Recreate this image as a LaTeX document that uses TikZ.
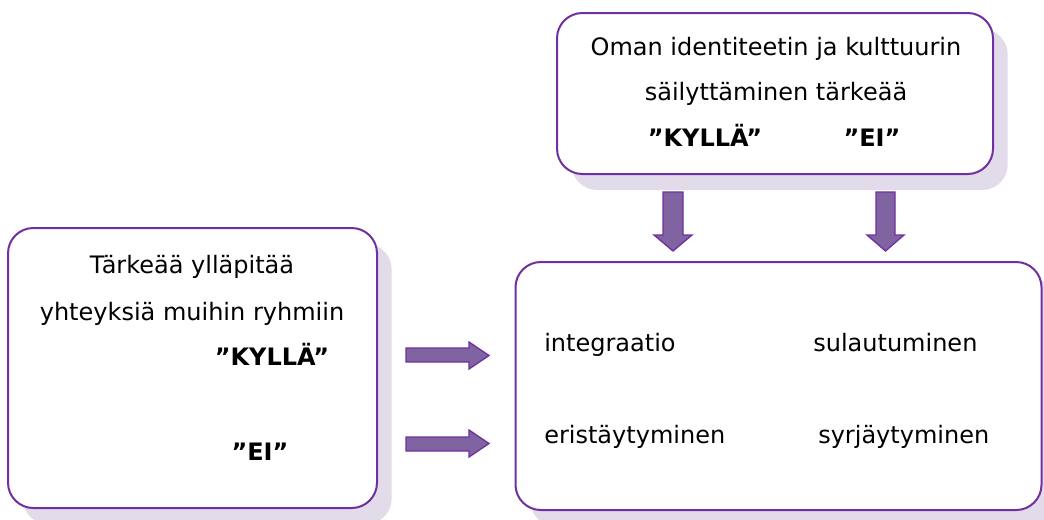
\documentclass[tikz,border=0pt]{standalone}
\usepackage{fontspec}
\setmainfont{DejaVu Sans}
\usepackage{tikz}
\usetikzlibrary{shadows}

\definecolor{boxline}{HTML}{7030A0}
\definecolor{arrowfill}{HTML}{8064A2}
\definecolor{shadowlav}{HTML}{E2DCEA}

\tikzset{
  box/.style={draw=boxline, line width=1.5pt, fill=white, rounded corners=19pt,
    inner sep=0pt, drop shadow={shadow xshift=11pt, shadow yshift=-12pt, fill=shadowlav, opacity=1}},
  label/.style={font=\fontsize{18}{22}\selectfont, inner sep=0pt},
  answer/.style={label, font=\fontsize{18}{22}\selectfont\bfseries},
  blockarrow/.style={draw=boxline, fill=arrowfill, line width=1pt, line join=miter}
}

\begin{document}
\begin{tikzpicture}[line cap=round,line join=round,x=0.75pt,y=-0.75pt]
\clip (0,0) rectangle (1044,519);
\fill[white] (0,0) rectangle (1044,519);
% boxes
\node[box, minimum width=327pt, minimum height=120.75pt] (identity) at (775,93.5) {};
\node[box, minimum width=276.75pt, minimum height=210pt] (contacts) at (192.5,368) {};
\node[box, minimum width=394.5pt, minimum height=186pt] (outcomes) at (778.5,386) {};
% top box text
\node[label, anchor=base] (idline1) at (776,55) {Oman identiteetin ja kulttuurin};
\node[label, anchor=base] (idline2) at (776,100) {säilyttäminen tärkeää};
\node[answer, anchor=base] (idyes) at (705,146) {”KYLLÄ”};
\node[answer, anchor=base] (idno) at (872,146) {”EI”};
% left box text
\node[label, anchor=base] (ctline1) at (192,273) {Tärkeää ylläpitää};
\node[label, anchor=base] (ctline2) at (192,320) {yhteyksiä muihin ryhmiin};
\node[answer, anchor=base] (ctyes) at (272,365) {”KYLLÄ”};
\node[answer, anchor=base] (ctno) at (260,460) {”EI”};
% outcomes
\node[label, anchor=base west] (integ) at (544,351) {integraatio};
\node[label, anchor=base west] (assim) at (813,351) {sulautuminen};
\node[label, anchor=base west] (separ) at (544,443) {eristäytyminen};
\node[label, anchor=base west] (margi) at (818,443) {syrjäytyminen};
% block arrows
\draw[blockarrow] (406,348) -- (469,348) -- (469,342) -- (489,355.5) -- (469,369) -- (469,362) -- (406,362) -- cycle;
\draw[blockarrow] (406,437) -- (469,437) -- (469,430) -- (489,443.5) -- (469,457) -- (469,451) -- (406,451) -- cycle;
\draw[blockarrow] (663,192) -- (683,192) -- (683,235) -- (692,235) -- (673,251) -- (654,235) -- (663,235) -- cycle;
\draw[blockarrow] (876,192) -- (895,192) -- (895,235) -- (904,235) -- (885.5,251) -- (867,235) -- (876,235) -- cycle;
\end{tikzpicture}
\end{document}
